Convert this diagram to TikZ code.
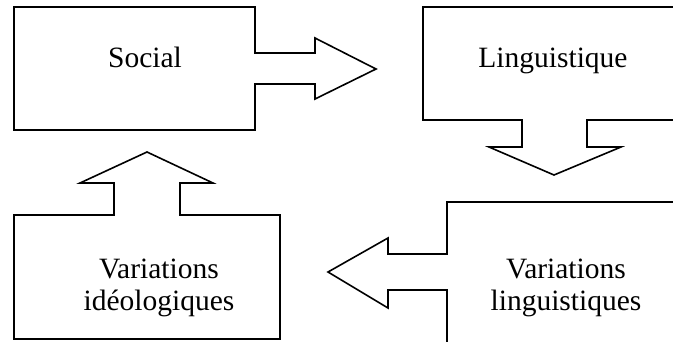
\documentclass[tikz,border=0pt]{standalone}
\usepackage{fontspec}
\setmainfont{Liberation Serif}
\begin{document}
\begin{tikzpicture}[x=1pt,y=-1pt,
  outline/.style={draw=black,line width=1.6pt,line join=miter,fill=white},
  label/.style={font=\fontsize{29.5}{32}\selectfont,anchor=base,inner sep=0pt,align=center}]
\useasboundingbox (0,0) rectangle (673,341);
\clip (0,0) rectangle (673,341);
% box with arrow pointing right
\draw[outline] (14,7) -- (255,7) -- (255,53) -- (315,53) -- (315,38) -- (376,69)
  -- (315,99) -- (315,84) -- (255,84) -- (255,130) -- (14,130) -- cycle;
% box with arrow pointing down (runs off the right edge)
\draw[outline] (423,7) -- (690,7) -- (690,120) -- (587,120) -- (587,147) -- (621,147)
  -- (554,175) -- (489,147) -- (522,147) -- (522,120) -- (423,120) -- cycle;
% box with arrow pointing left (runs off the right and lower edges)
\draw[outline] (690,202) -- (447,202) -- (447,254) -- (388,254) -- (388,238) -- (328,272)
  -- (388,308) -- (388,290) -- (447,290) -- (447,360);
% box with arrow pointing up
\draw[outline] (14,215) -- (114,215) -- (114,183) -- (80,183) -- (147,152) -- (213,183)
  -- (180,183) -- (180,215) -- (280,215) -- (280,339) -- (14,339) -- cycle;
% labels
\node[label] (social) at (145,67) {Social};
\node[label] (ling) at (553,67) {Linguistique};
\node[label] (varling1) at (566,278) {Variations};
\node[label] (varling2) at (566,310) {linguistiques};
\node[label] (varideo1) at (159,278) {Variations};
\node[label] (varideo2) at (159,310) {idéologiques};
\end{tikzpicture}
\end{document}
